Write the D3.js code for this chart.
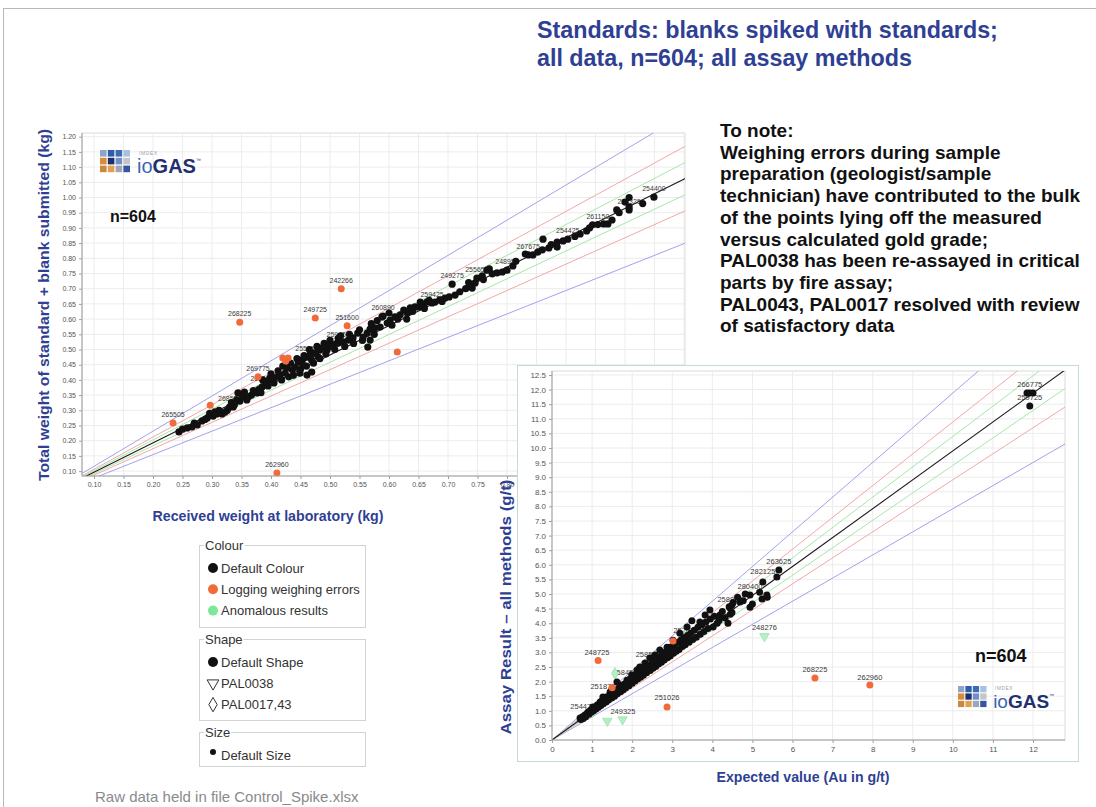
<!DOCTYPE html>
<html><head><meta charset="utf-8">
<script src="https://cdn.jsdelivr.net/npm/d3@7/dist/d3.min.js"></script>
<style>
html,body{margin:0;padding:0;background:#fff;}
svg{display:block;}
text{font-family:"Liberation Sans",Arial,sans-serif;}
</style></head><body>
<svg id="chart" width="1096" height="807"></svg>
<script>
// ---------------- DATA ----------------
const titleLines = ["Standards: blanks spiked with standards;", "all data, n=604; all assay methods"];
const noteLines = ["To note:", "Weighing errors during sample", "preparation (geologist/sample",
  "technician) have contributed to the bulk", "of the points lying off the measured",
  "versus calculated gold grade;", "PAL0038 has been re-assayed in critical",
  "parts by fire assay;", "PAL0043, PAL0017 resolved with review", "of satisfactory data"];

const leftXTicks = [0.10,0.15,0.20,0.25,0.30,0.35,0.40,0.45,0.50,0.55,0.60,0.65,0.70,0.75,0.80,0.85,0.90,0.95,1.00,1.05,1.10];
const leftYTicks = [0.10,0.15,0.20,0.25,0.30,0.35,0.40,0.45,0.50,0.55,0.60,0.65,0.70,0.75,0.80,0.85,0.90,0.95,1.00,1.05,1.10,1.15,1.20];
const rightXTicks = [0,1,2,3,4,5,6,7,8,9,10,11,12];
const rightYTicks = [0,0.5,1,1.5,2,2.5,3,3.5,4,4.5,5,5.5,6,6.5,7,7.5,8,8.5,9,9.5,10,10.5,11,11.5,12,12.5];

// reference lines: fitted slope times tolerance multipliers
const leftFitSlope = 0.964;
const rightFitSlope = 0.99;
const toleranceMultipliers = [0.8, 1.2, 0.9, 1.1, 0.95, 1.05, 1.0];

// Left chart: received weight (x) vs total weight submitted (y), kg
const leftBlack = [
[0.244,0.229],[0.250,0.238],[0.258,0.242],[0.266,0.245],[0.270,0.258],[0.275,0.252],[0.283,0.265],[0.288,0.270],
[0.292,0.275],[0.296,0.290],[0.302,0.281],[0.305,0.295],[0.308,0.288],[0.312,0.300],[0.317,0.288],[0.322,0.294],
[0.326,0.300],[0.330,0.311],[0.333,0.325],[0.336,0.311],[0.338,0.318],[0.342,0.334],[0.344,0.357],[0.347,0.330],
[0.352,0.344],[0.355,0.360],[0.359,0.334],[0.362,0.345],[0.367,0.350],[0.370,0.365],[0.376,0.357],[0.380,0.370],
[0.383,0.358],[0.385,0.377],[0.386,0.400],[0.390,0.395],[0.393,0.390],[0.395,0.380],[0.398,0.406],[0.400,0.420],
[0.403,0.400],[0.405,0.390],[0.410,0.410],[0.412,0.430],[0.415,0.416],[0.418,0.400],[0.420,0.445],[0.424,0.422],
[0.427,0.439],[0.430,0.410],[0.433,0.455],[0.436,0.433],[0.438,0.415],[0.441,0.442],[0.444,0.470],[0.446,0.459],
[0.449,0.422],[0.450,0.435],[0.453,0.465],[0.454,0.449],[0.456,0.480],[0.458,0.475],[0.460,0.445],[0.461,0.416],
[0.461,0.475],[0.465,0.500],[0.466,0.482],[0.469,0.465],[0.469,0.426],[0.471,0.488],[0.472,0.455],[0.475,0.488],
[0.478,0.510],[0.480,0.475],[0.483,0.498],[0.483,0.470],[0.486,0.505],[0.490,0.520],[0.493,0.485],[0.495,0.498],
[0.497,0.508],[0.500,0.515],[0.500,0.530],[0.505,0.515],[0.508,0.500],[0.512,0.521],[0.514,0.537],[0.514,0.521],
[0.518,0.545],[0.522,0.525],[0.525,0.510],[0.531,0.531],[0.533,0.550],[0.539,0.538],[0.540,0.520],[0.547,0.554],
[0.550,0.565],[0.555,0.530],[0.556,0.541],[0.563,0.554],[0.564,0.508],[0.568,0.567],[0.568,0.531],[0.570,0.585],
[0.575,0.550],[0.576,0.571],[0.580,0.595],[0.585,0.574],[0.588,0.607],[0.590,0.610],[0.597,0.587],[0.600,0.620],
[0.602,0.597],[0.605,0.580],[0.610,0.607],[0.615,0.600],[0.619,0.614],[0.625,0.630],[0.630,0.600],[0.631,0.620],
[0.636,0.637],[0.640,0.625],[0.644,0.640],[0.650,0.640],[0.653,0.656],[0.658,0.646],[0.660,0.635],[0.664,0.656],
[0.668,0.662],[0.673,0.653],[0.678,0.656],[0.686,0.663],[0.690,0.658],[0.695,0.669],[0.702,0.673],[0.707,0.715],
[0.712,0.679],[0.720,0.690],[0.730,0.700],[0.735,0.720],[0.741,0.702],[0.746,0.719],[0.749,0.735],[0.758,0.742],
[0.760,0.730],[0.766,0.761],[0.770,0.765],[0.775,0.749],[0.783,0.752],[0.792,0.755],[0.800,0.761],[0.810,0.775],
[0.815,0.790],[0.831,0.814],[0.836,0.811],[0.844,0.811],[0.852,0.820],[0.860,0.828],[0.861,0.863],[0.871,0.834],
[0.875,0.845],[0.885,0.853],[0.885,0.837],[0.895,0.857],[0.903,0.863],[0.915,0.872],[0.924,0.880],[0.935,0.890],
[0.940,0.900],[0.945,0.910],[0.954,0.911],[0.964,0.913],[0.971,0.913],[0.978,0.926],[0.986,0.959],[0.990,0.950],
[1.000,0.985],[1.007,1.000],[1.007,0.969],[1.007,0.959],[1.030,0.980],[1.049,1.001]
];
const leftOrange = [[0.234,0.258],[0.347,0.590],[0.475,0.604],[0.519,0.700],[0.529,0.578],[0.614,0.492],
  [0.410,0.094],[0.378,0.410],[0.420,0.472],[0.429,0.472],[0.425,0.462],[0.297,0.317]];
const leftLabels = [
["265505",0.234,0.258],["268225",0.347,0.590],["249725",0.475,0.604],["242266",0.519,0.700],["251600",0.529,0.578],
["262960",0.410,0.094],["269775",0.378,0.410],["260890",0.590,0.610],["255950",0.461,0.475],["259450",0.514,0.521],
["259425",0.673,0.653],["249275",0.707,0.715],["255650",0.749,0.735],["248950",0.800,0.761],["267675",0.836,0.811],
["254425",0.903,0.863],["261150",0.954,0.911],["253325",1.007,0.959],["254400",1.049,1.001],["268550",0.330,0.311],
["268100",0.385,0.377]];

// Right chart: expected value (x) vs assay result (y), g/t
const rightBlack = [
[0.70,0.75],[0.72,0.70],[0.76,0.80],[0.78,0.74],[0.82,0.86],[0.84,0.80],[0.88,0.92],[0.90,0.96],[0.92,0.88],
[0.96,1.02],[0.98,0.95],[1.02,1.13],[1.04,1.00],[1.07,1.12],[1.10,1.06],[1.13,1.20],[1.16,1.12],[1.20,1.30],
[1.22,1.18],[1.25,1.34],[1.27,1.47],[1.28,1.24],[1.32,1.40],[1.35,1.30],[1.38,1.48],[1.41,1.37],[1.45,1.64],
[1.46,1.52],[1.49,1.44],[1.53,1.62],[1.56,1.50],[1.60,1.70],[1.62,1.99],[1.63,1.58],[1.66,1.76],[1.70,1.88],
[1.71,1.65],[1.74,1.84],[1.78,1.72],[1.81,1.92],[1.84,1.79],[1.87,2.05],[1.88,1.96],[1.92,1.86],[1.95,2.10],
[1.99,2.23],[2.00,1.94],[2.04,2.16],[2.07,2.02],[2.10,2.26],[2.12,2.40],[2.14,2.09],[2.18,2.32],[2.19,2.50],
[2.21,2.15],[2.25,2.40],[2.28,2.22],[2.32,2.64],[2.33,2.46],[2.36,2.30],[2.40,2.55],[2.44,2.81],[2.45,2.38],
[2.48,2.62],[2.52,2.46],[2.55,2.72],[2.57,2.91],[2.59,2.52],[2.62,2.80],[2.66,2.60],[2.69,3.08],[2.70,2.86],
[2.73,2.66],[2.77,2.94],[2.80,2.74],[2.84,3.02],[2.87,3.18],[2.88,2.82],[2.92,3.10],[2.95,2.88],[2.99,3.20],
[3.02,3.42],[3.03,2.97],[3.06,3.26],[3.10,3.04],[3.14,3.34],[3.17,3.10],[3.19,3.66],[3.21,3.42],[3.25,3.20],
[3.29,3.50],[3.32,3.26],[3.34,3.46],[3.37,3.87],[3.38,3.58],[3.42,3.35],[3.46,3.66],[3.49,4.08],[3.51,3.44],
[3.55,3.76],[3.60,3.52],[3.64,3.86],[3.69,4.04],[3.70,3.62],[3.74,3.95],[3.79,3.72],[3.82,4.28],[3.84,4.04],
[3.89,3.82],[3.94,4.45],[3.95,4.14],[4.02,3.87],[4.05,4.24],[4.12,4.00],[4.17,4.09],[4.19,4.28],[4.25,4.40],
[4.32,4.18],[4.39,4.00],[4.42,4.56],[4.44,4.52],[4.45,4.31],[4.49,4.37],[4.49,4.62],[4.52,4.71],[4.63,4.89],
[4.69,4.73],[4.77,4.77],[4.82,5.00],[4.94,4.55],[4.94,4.97],[5.00,4.66],[5.18,5.06],[5.24,4.83],[5.26,5.41],
[5.36,4.97],[5.37,4.89],[5.61,5.58],[5.66,5.82],[11.85,11.88],[11.92,11.88],[12.00,11.88],[11.92,11.44]
];
const rightOrange = [[1.15,2.72],[2.87,1.13],[6.56,2.12],[7.93,1.88],[3.02,3.39],[1.50,1.79]];
const rightGreenTriangle = [[1.38,0.65],[1.76,0.70],[5.30,3.55]];
const rightGreenDiamond = [[1.57,2.28],[1.00,0.95],[3.30,3.55],[2.60,2.75]];
const rightLabels = [
["266775",11.92,11.88],["259725",11.92,11.44],["263625",5.66,5.82],["282125",5.26,5.48],["280400",4.94,4.97],
["258850",4.44,4.52],["248276",5.30,3.55],["252675",3.34,3.46],["258550",2.40,2.64],["258450",1.82,2.02],
["251875",1.27,1.54],["254475",0.77,0.86],["249325",1.77,0.68],["248725",1.12,2.71],["251026",2.87,1.16],
["268225",6.56,2.12],["262960",7.93,1.85]];

const legendColour = ["Default Colour", "Logging weighing errors", "Anomalous results"];
const legendShape = ["Default Shape", "PAL0038", "PAL0017,43"];
const legendSize = ["Default Size"];

// ---------------- DRAW ----------------
const svg = d3.select("#chart");
const defs = svg.append("defs");
const C = {black:"#111", orange:"#f26a3a", green:"#7de89a", greenPale:"#b4f0c4", greenDark:"#8edca4",
  blue:"#a2a2ec", red:"#f2a8a8", lgreen:"#a8e6a8", grid:"#ececec", axis:"#a0a0a0",
  tick:"#555", navy:"#2f3f94"};

svg.append("rect").attr("x",3.5).attr("y",8.5).attr("width",1200).attr("height",1000)
  .attr("fill","none").attr("stroke","#b8b8b8");

function refStyle(m){
  if (m === 1) return {c:"#1a1a1a", w:1.1};
  const d = Math.abs(m-1);
  if (d > 0.15) return {c:C.blue, w:1};
  if (d > 0.07) return {c:C.red, w:1};
  return {c:C.lgreen, w:1};
}

function drawPlot(o){
  const {g, x, y, box, xt, yt, fx, fy, slope, fs, clipId} = o;
  defs.append("clipPath").attr("id",clipId).append("rect")
    .attr("x",box.l).attr("y",box.t).attr("width",box.r-box.l).attr("height",box.b-box.t);
  g.append("rect").attr("x",box.l).attr("y",box.t).attr("width",box.r-box.l).attr("height",box.b-box.t)
    .attr("fill","#fff").attr("stroke","#dadada");
  const inner = g.append("g").attr("clip-path",`url(#${clipId})`);
  inner.selectAll(".gx").data(xt).join("line")
    .attr("x1",d=>x(d)).attr("x2",d=>x(d)).attr("y1",box.t).attr("y2",box.b)
    .attr("stroke",C.grid).attr("stroke-width",1);
  inner.selectAll(".gy").data(yt).join("line")
    .attr("y1",d=>y(d)).attr("y2",d=>y(d)).attr("x1",box.l).attr("x2",box.r)
    .attr("stroke",C.grid).attr("stroke-width",1);
  const xMax = x.invert(box.r + 50);
  inner.selectAll(".ref").data(toleranceMultipliers).join("line")
    .attr("x1",x(0)).attr("y1",y(0))
    .attr("x2",x(xMax)).attr("y2",d=>y(xMax*slope*d))
    .attr("stroke",d=>refStyle(d).c).attr("stroke-width",d=>refStyle(d).w);
  const ax = g.append("g").attr("transform",`translate(0,${box.b})`)
    .call(d3.axisBottom(x).tickValues(xt).tickFormat(fx).tickSize(3).tickSizeOuter(0));
  const ay = g.append("g").attr("transform",`translate(${box.l},0)`)
    .call(d3.axisLeft(y).tickValues(yt).tickFormat(fy).tickSize(3).tickSizeOuter(0));
  [ax, ay].forEach(a => {
    a.select(".domain").remove();
    a.selectAll(".tick line").attr("stroke",C.axis);
    a.selectAll(".tick text").attr("fill",C.tick).attr("font-size",fs)
      .attr("font-family",'"Liberation Sans",Arial,sans-serif');
  });
  ax.selectAll(".tick").filter(d => x(d) < box.l - 1 || x(d) > box.r + 1).remove();
  g.append("line").attr("x1",box.l).attr("x2",box.r).attr("y1",box.b).attr("y2",box.b).attr("stroke",C.axis);
  g.append("line").attr("x1",box.l).attr("x2",box.l).attr("y1",box.t).attr("y2",box.b).attr("stroke",C.axis);
  return inner;
}

function drawLabels(inner, data, x, y, fs){
  inner.selectAll(".lbl").data(data).join("text")
    .attr("x",d=>x(d[1])).attr("y",d=>y(d[2]) - 6)
    .attr("text-anchor","middle").attr("font-size",fs).attr("fill","#3a3a3a")
    .text(d=>d[0]);
}
function drawDots(inner, data, x, y, r, fill){
  inner.append("g").selectAll("circle").data(data).join("circle")
    .attr("cx",d=>x(d[0])).attr("cy",d=>y(d[1])).attr("r",r).attr("fill",fill);
}

function drawLogo(g, x0, y0, k){
  const sq = [["#8fa4c9","#2d5ea8","#3b6cb4","#aac0e1"],
              ["#d98b3a","#1e2f6d","#6f8fc9","#c5c5c5"],
              ["#c98740","#dfa052","#9ca6b6","#3456a0"]];
  const s = 6.6*k, gp = 1.2*k;
  sq.forEach((row,i)=>row.forEach((c,j)=>{
    g.append("rect").attr("x",x0+j*(s+gp)).attr("y",y0+i*(s+gp)).attr("width",s).attr("height",s).attr("fill",c);
  }));
  g.append("text").attr("x",x0+39*k).attr("y",y0+4.5*k).attr("font-size",5*k).attr("fill","#9aa0b0")
    .attr("letter-spacing",0.6*k).text("IMDEX");
  const t = g.append("text").attr("x",x0+37*k).attr("y",y0+23*k).attr("font-size",20*k);
  t.append("tspan").attr("fill","#3b64b2").text("io");
  t.append("tspan").attr("fill","#1f2f70").attr("font-weight","bold").text("GAS");
  t.append("tspan").attr("fill","#1f2f70").attr("font-size",5*k).attr("dy",-11*k).text("™");
}

// ---------- LEFT CHART ----------
const LB = {l:82, r:685, t:133, b:476};
const xL = d3.scaleLinear().domain([0.10,1.10]).range([94,684]);
const yL = d3.scaleLinear().domain([0.10,1.20]).range([471.1,136.7]);
const gL = svg.append("g");
const innerL = drawPlot({g:gL, x:xL, y:yL, box:LB, xt:leftXTicks, yt:leftYTicks,
  fx:d3.format(".2f"), fy:d3.format(".2f"), slope:leftFitSlope, fs:7, clipId:"clipL"});
drawLabels(innerL, leftLabels, xL, yL, 7);
drawDots(innerL, leftBlack, xL, yL, 3.6, C.black);
drawDots(innerL, leftOrange, xL, yL, 3.5, C.orange);
drawLogo(gL, 100, 150, 1);
gL.append("text").attr("x",110).attr("y",222).attr("font-size",16).attr("font-weight","bold").attr("fill","#111").text("n=604");
gL.append("text").attr("transform","translate(49,305) rotate(-90)").attr("text-anchor","middle")
  .attr("font-size",15).attr("font-weight","bold").attr("fill",C.navy)
  .attr("textLength",352).attr("lengthAdjust","spacingAndGlyphs")
  .text("Total weight of standard + blank submitted (kg)");
gL.append("text").attr("x",268).attr("y",521).attr("text-anchor","middle")
  .attr("font-size",15).attr("font-weight","bold").attr("fill",C.navy)
  .attr("textLength",231).attr("lengthAdjust","spacingAndGlyphs")
  .text("Received weight at laboratory (kg)");

// ---------- RIGHT CHART ----------
const gR = svg.append("g");
gR.append("rect").attr("x",517.5).attr("y",365.5).attr("width",561).attr("height",396)
  .attr("fill","#fff").attr("stroke","#c6d9d9");
const RB = {l:552, r:1065, t:371, b:740};
const xR = d3.scaleLinear().domain([0,12]).range([552,1033]);
const yR = d3.scaleLinear().domain([0,12.5]).range([740,375]);
const innerR = drawPlot({g:gR, x:xR, y:yR, box:RB, xt:rightXTicks, yt:rightYTicks,
  fx:d3.format("d"), fy:d3.format(".1f"), slope:rightFitSlope, fs:8, clipId:"clipR"});
drawLabels(innerR, rightLabels, xR, yR, 7.5);
innerR.append("g").selectAll("path").data(rightGreenTriangle).join("path")
  .attr("transform",d=>`translate(${xR(d[0])},${yR(d[1])}) rotate(180)`)
  .attr("d",d3.symbol(d3.symbolTriangle,40)).attr("fill",C.greenPale).attr("stroke",C.greenDark).attr("stroke-width",0.6);
innerR.append("g").selectAll("path").data(rightGreenDiamond).join("path")
  .attr("transform",d=>`translate(${xR(d[0])},${yR(d[1])})`)
  .attr("d",d3.symbol(d3.symbolDiamond,40)).attr("fill",C.greenPale).attr("stroke",C.greenDark).attr("stroke-width",0.6);
drawDots(innerR, rightBlack, xR, yR, 3.5, C.black);
drawDots(innerR, rightOrange, xR, yR, 3.5, C.orange);
gR.append("text").attr("x",975).attr("y",662).attr("font-size",18).attr("font-weight","bold").attr("fill","#111").text("n=604");
drawLogo(gR, 958, 686, 0.95);
svg.append("text").attr("transform","translate(511,607) rotate(-90)").attr("text-anchor","middle")
  .attr("font-size",15).attr("font-weight","bold").attr("fill",C.navy)
  .attr("textLength",255).attr("lengthAdjust","spacingAndGlyphs")
  .text("Assay Result \u2013 all methods (g/t)");
svg.append("text").attr("x",803).attr("y",782).attr("text-anchor","middle")
  .attr("font-size",15).attr("font-weight","bold").attr("fill",C.navy)
  .attr("textLength",173).attr("lengthAdjust","spacingAndGlyphs")
  .text("Expected value (Au in g/t)");

// ---------- LEGEND ----------
function legendBox(title, top, bottom, items, drawSym){
  const g = svg.append("g");
  g.append("rect").attr("x",199.5).attr("y",top+0.5).attr("width",166).attr("height",bottom-top)
    .attr("fill","#fff").attr("stroke","#d3d3d3");
  const tt = g.append("text").attr("x",205).attr("y",top+4.5).attr("font-size",13).attr("fill","#333").text(title);
  const bb = tt.node().getBBox();
  g.insert("rect", "text").attr("x",bb.x-1).attr("y",top-2).attr("width",bb.width+2).attr("height",4).attr("fill","#fff");
  items.forEach((t,i)=>{
    const cy = top + 23 + i*21.3;
    drawSym(g, 213, cy, i);
    g.append("text").attr("x",221).attr("y",cy+4.5).attr("font-size",13).attr("fill","#333").text(t);
  });
}
legendBox("Colour", 545, 627, legendColour, (g,x,y,i)=>{
  g.append("circle").attr("cx",x).attr("cy",y).attr("r",5).attr("fill",[C.black,C.orange,C.green][i]);
});
legendBox("Shape", 639, 720, legendShape, (g,x,y,i)=>{
  if (i===0) g.append("circle").attr("cx",x).attr("cy",y).attr("r",5).attr("fill",C.black);
  else if (i===1) g.append("path").attr("transform",`translate(${x},${y}) rotate(180)`)
    .attr("d",d3.symbol(d3.symbolTriangle,60)).attr("fill","none").attr("stroke","#333");
  else g.append("path").attr("transform",`translate(${x},${y})`)
    .attr("d",d3.symbol(d3.symbolDiamond,60)).attr("fill","none").attr("stroke","#333");
});
legendBox("Size", 732, 766, legendSize, (g,x,y)=>{
  g.append("circle").attr("cx",x).attr("cy",y-3).attr("r",3).attr("fill",C.black);
});

// ---------- TITLE, NOTES, FOOTER ----------
svg.selectAll(".title").data(titleLines).join("text")
  .attr("x",537).attr("y",(d,i)=>38+i*28).attr("font-size",23.3).attr("font-weight","bold")
  .attr("fill",C.navy).text(d=>d);
svg.selectAll(".note").data(noteLines).join("text")
  .attr("x",720).attr("y",(d,i)=>137+i*21.7).attr("font-size",19)
  .attr("font-weight","bold").attr("fill","#111").text(d=>d);
svg.append("text").attr("x",95).attr("y",802).attr("font-size",15).attr("fill","#8a8a8a")
  .text("Raw data held in file Control_Spike.xlsx");
</script></body></html>
